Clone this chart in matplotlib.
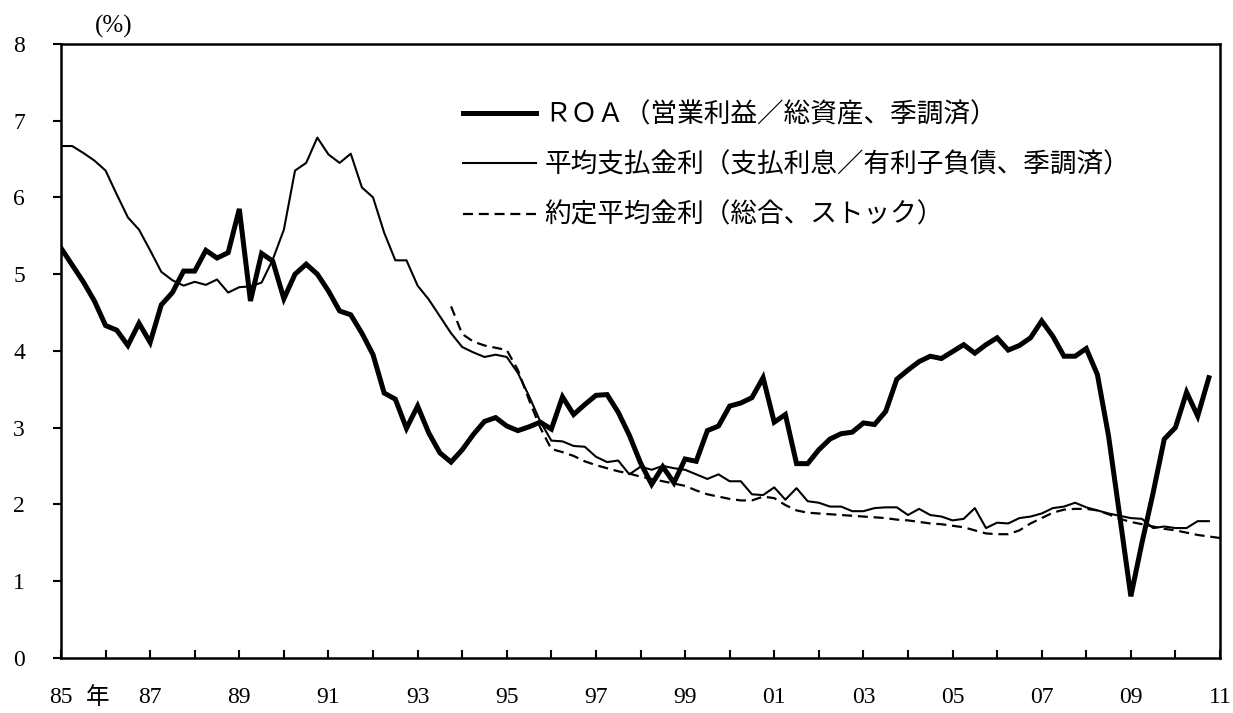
import matplotlib
matplotlib.use("Agg")
import matplotlib.pyplot as plt
from matplotlib.lines import Line2D
import numpy as np

# ---------------- data (quarterly, 1985Q1 onward) ----------------
start_year = 1985
roa = [5.34, 5.12, 4.90, 4.65, 4.33, 4.27, 4.07, 4.36, 4.11, 4.60, 4.76, 5.04,
       5.04, 5.31, 5.21, 5.28, 5.85, 4.65, 5.27, 5.17, 4.68, 5.00, 5.13, 5.00,
       4.78, 4.52, 4.47, 4.23, 3.95, 3.45, 3.37, 2.99, 3.28, 2.93, 2.67, 2.55,
       2.71, 2.91, 3.08, 3.13, 3.02, 2.96, 3.01, 3.07, 2.98, 3.40, 3.17, 3.30,
       3.42, 3.43, 3.20, 2.90, 2.54, 2.26, 2.49, 2.28, 2.59, 2.56, 2.96, 3.02,
       3.28, 3.32, 3.39, 3.65, 3.07, 3.17, 2.53, 2.53, 2.71, 2.85, 2.92, 2.94,
       3.06, 3.04, 3.21, 3.63, 3.75, 3.86, 3.93, 3.90, 3.99, 4.08, 3.97, 4.08,
       4.17, 4.01, 4.07, 4.17, 4.39, 4.19, 3.93, 3.93, 4.03, 3.69, 2.89, 1.85,
       0.80, 1.50, 2.15, 2.85, 3.00, 3.46, 3.15, 3.65]
paid_rate = [6.67, 6.67, 6.58, 6.48, 6.35, 6.04, 5.74, 5.58, 5.31, 5.03, 4.92, 4.85,
             4.90, 4.86, 4.93, 4.76, 4.83, 4.84, 4.89, 5.19, 5.58, 6.35, 6.45, 6.78,
             6.56, 6.45, 6.57, 6.13, 6.00, 5.54, 5.18, 5.18, 4.85, 4.67, 4.45, 4.23,
             4.05, 3.98, 3.92, 3.95, 3.92, 3.71, 3.41, 3.08, 2.83, 2.82, 2.76, 2.75,
             2.62, 2.55, 2.57, 2.39, 2.49, 2.45, 2.50, 2.47, 2.45, 2.39, 2.33, 2.39,
             2.30, 2.30, 2.13, 2.12, 2.22, 2.06, 2.21, 2.04, 2.02, 1.97, 1.97, 1.91,
             1.91, 1.95, 1.96, 1.96, 1.86, 1.94, 1.86, 1.84, 1.79, 1.81, 1.95, 1.69,
             1.76, 1.75, 1.82, 1.84, 1.88, 1.95, 1.97, 2.02, 1.96, 1.92, 1.88, 1.85,
             1.82, 1.81, 1.69, 1.71, 1.69, 1.69, 1.78, 1.78]
contract_start_q = 35  # 1993Q4
contract_rate = [4.58, 4.22, 4.12, 4.07, 4.04, 4.01, 3.75, 3.36, 3.00, 2.72, 2.68, 2.63,
                 2.56, 2.51, 2.47, 2.43, 2.40, 2.36, 2.33, 2.30, 2.27, 2.24, 2.18, 2.13,
                 2.10, 2.07, 2.05, 2.05, 2.10, 2.08, 1.99, 1.92, 1.89, 1.88, 1.87, 1.86,
                 1.85, 1.84, 1.83, 1.82, 1.80, 1.79, 1.77, 1.75, 1.74, 1.72, 1.70, 1.66,
                 1.62, 1.61, 1.61, 1.66, 1.75, 1.82, 1.89, 1.93, 1.94, 1.94, 1.92, 1.87,
                 1.81, 1.77, 1.74, 1.71, 1.68, 1.66, 1.63, 1.60, 1.58, 1.56]

x_tick_years = list(range(1985, 2012, 2))
x_tick_labels = ["85", "87", "89", "91", "93", "95", "97", "99",
                 "01", "03", "05", "07", "09", "11"]
y_ticks = [0, 1, 2, 3, 4, 5, 6, 7, 8]

labels = ["ＲＯＡ（営業利益／総資産、季調済）",
          "平均支払金利（支払利息／有利子負債、季調済）",
          "約定平均金利（総合、ストック）"]

# ---------------- figure ----------------
W, H = 1233, 713
fig = plt.figure(figsize=(W / 100, H / 100), dpi=100)
L, R, T, B = 61, 1220, 44, 657.7
ax = fig.add_axes([L / W, 1 - B / H, (R - L) / W, (B - T) / H])

x_roa = start_year + np.arange(len(roa)) / 4
x_paid = start_year + np.arange(len(paid_rate)) / 4
x_con = start_year + (contract_start_q + np.arange(len(contract_rate))) / 4

ax.plot(x_roa, roa, color="black", lw=3.6, solid_joinstyle="miter")
ax.plot(x_paid, paid_rate, color="black", lw=1.5)
ax.plot(x_con, contract_rate, color="black", lw=1.6, ls=(0, (4.5, 2.6)))

ax.set_xlim(1985, 2011)
ax.set_ylim(0, 8)

serif = ["Liberation Serif", "DejaVu Serif"]
cjk = ["Noto Sans CJK JP", "DejaVu Sans"]

ax.set_xticks(x_tick_years)
ax.set_xticklabels(x_tick_labels, fontsize=17, family=serif)
ax.set_xticks(range(1985, 2012), minor=True)
ax.tick_params(axis="x", which="both", direction="in", length=6, width=1.5, pad=21)
ax.set_yticks(y_ticks)
ax.set_yticklabels([str(v) for v in y_ticks], fontsize=17, family=serif)
ax.tick_params(axis="y", direction="out", length=6, width=1.5, pad=20)

for s in ax.spines.values():
    s.set_linewidth(1.8)

# "年" next to the first year label, and unit label
fig.text(98 / W, 1 - 698 / H, "年", fontsize=17, family=cjk, ha="center", va="center")
fig.text(114 / W, 1 - 26 / H, "(%)", fontsize=18, family=serif, ha="center", va="center")

handles = [Line2D([], [], color="black", lw=3.6),
           Line2D([], [], color="black", lw=1.5),
           Line2D([], [], color="black", lw=1.6, ls=(0, (4.5, 2.6)))]
leg = ax.legend(handles, labels, loc="upper left",
                bbox_to_anchor=((463 - L) / (R - L), 1 - (101 - T) / (B - T)),
                frameon=False, borderpad=0, borderaxespad=0,
                handlelength=2.75, handletextpad=0.3, labelspacing=0.88,
                prop={"family": cjk, "size": 19.2})

fig.savefig("out.png", dpi=100, facecolor="white")
